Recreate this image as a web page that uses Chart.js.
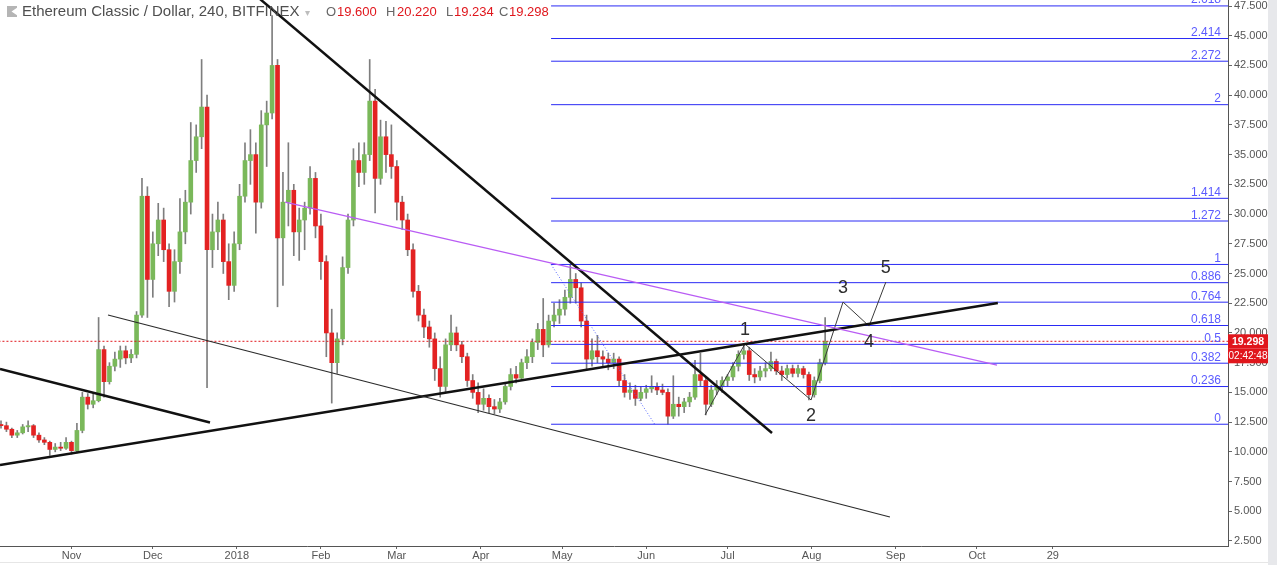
<!DOCTYPE html>
<html><head><meta charset="utf-8">
<script src="https://cdn.jsdelivr.net/npm/chart.js@4.4.1/dist/chart.umd.min.js"></script>
<style>
html,body{margin:0;padding:0;background:#fff;width:1277px;height:565px;overflow:hidden;}
#wrap{position:relative;width:1277px;height:565px;}
canvas{position:absolute;left:0;top:0;}
#strip{position:absolute;left:1268px;top:0;width:9px;height:565px;background:#e7e8eb;}
#bline{position:absolute;left:0;top:562px;width:1268px;height:1px;background:#e6e6e6;}
.t{position:absolute;top:4px;font-family:'Liberation Sans',Arial,sans-serif;white-space:nowrap;line-height:16px;}
#icon{position:absolute;left:7px;top:6px;width:10px;height:11px;background:#b5b5b5;clip-path:polygon(0 0,100% 0,100% 15%,45% 50%,100% 85%,100% 100%,0 100%);}
</style></head>
<body><div id="wrap">
<canvas id="c" width="1268" height="565"></canvas>
<div id="strip"></div><div id="bline"></div>
<div id="icon"></div>
<div class="t" style="left:22px;font-size:15px;color:#4f4f4f;top:3px;">Ethereum Classic / Dollar, 240, BITFINEX</div>
<div class="t" style="left:305px;font-size:10px;color:#bdbdbd;top:5px;">▾</div>
<div class="t" style="left:326px;font-size:13px;color:#666;">O</div>
<div class="t" style="left:337px;font-size:13px;color:#e0161c;">19.600</div>
<div class="t" style="left:386px;font-size:13px;color:#666;">H</div>
<div class="t" style="left:397px;font-size:13px;color:#e0161c;">20.220</div>
<div class="t" style="left:446px;font-size:13px;color:#666;">L</div>
<div class="t" style="left:454px;font-size:13px;color:#e0161c;">19.234</div>
<div class="t" style="left:499px;font-size:13px;color:#666;">C</div>
<div class="t" style="left:509px;font-size:13px;color:#e0161c;">19.298</div>
</div>
<script>
// ---------- DATA ----------
const candleDates = [
'2017-10-06','2017-10-08','2017-10-10','2017-10-12','2017-10-14','2017-10-16','2017-10-18','2017-10-20','2017-10-22','2017-10-24','2017-10-26','2017-10-28','2017-10-30',
'2017-11-01','2017-11-03','2017-11-05','2017-11-07','2017-11-09','2017-11-11','2017-11-13','2017-11-15','2017-11-17','2017-11-19','2017-11-21','2017-11-23','2017-11-25','2017-11-27','2017-11-29',
'2017-12-01','2017-12-03','2017-12-05','2017-12-07','2017-12-09','2017-12-11','2017-12-13','2017-12-15','2017-12-17','2017-12-19','2017-12-21','2017-12-23','2017-12-25','2017-12-27','2017-12-29','2017-12-31',
'2018-01-02','2018-01-04','2018-01-06','2018-01-08','2018-01-10','2018-01-12','2018-01-14','2018-01-16','2018-01-18','2018-01-20','2018-01-22','2018-01-24','2018-01-26','2018-01-28','2018-01-30',
'2018-02-01','2018-02-03','2018-02-05','2018-02-07','2018-02-09','2018-02-11','2018-02-13','2018-02-15','2018-02-17','2018-02-19','2018-02-21','2018-02-23','2018-02-25','2018-02-27',
'2018-03-01','2018-03-03','2018-03-05','2018-03-07','2018-03-09','2018-03-11','2018-03-13','2018-03-15','2018-03-17','2018-03-19','2018-03-21','2018-03-23','2018-03-25','2018-03-27','2018-03-29','2018-03-31',
'2018-04-02','2018-04-04','2018-04-06','2018-04-08','2018-04-10','2018-04-12','2018-04-14','2018-04-16','2018-04-18','2018-04-20','2018-04-22','2018-04-24','2018-04-26','2018-04-28','2018-04-30',
'2018-05-02','2018-05-04','2018-05-06','2018-05-08','2018-05-10','2018-05-12','2018-05-14','2018-05-16','2018-05-18','2018-05-20','2018-05-22','2018-05-24','2018-05-26','2018-05-28','2018-05-30',
'2018-06-01','2018-06-03','2018-06-05','2018-06-07','2018-06-09','2018-06-11','2018-06-13','2018-06-15','2018-06-17','2018-06-19','2018-06-21','2018-06-23','2018-06-25','2018-06-27','2018-06-29',
'2018-07-01','2018-07-03','2018-07-05','2018-07-07','2018-07-09','2018-07-11','2018-07-13','2018-07-15','2018-07-17','2018-07-19','2018-07-21','2018-07-23','2018-07-25','2018-07-27','2018-07-29','2018-07-31',
'2018-08-02','2018-08-04','2018-08-06'];
const openP = [12.3,12.2,11.9,11.4,11.6,12.1,12.2,11.4,11.0,10.8,10.2,10.4,10.3,
10.8,10.1,11.8,14.6,14.0,14.3,18.6,15.9,17.2,17.8,18.5,17.9,18.2,21.5,31.5,
24.5,27.5,29.5,27.0,23.5,26.0,28.5,31.0,34.5,36.5,39.0,27.0,28.5,29.5,26.0,24.0,
27.5,31.5,34.5,35.0,31.0,37.5,38.5,42.5,28.0,31.0,32.0,28.5,29.5,30.5,33.0,
29.0,26.0,20.0,17.5,19.5,25.5,29.5,34.5,33.5,35.0,39.5,33.0,36.5,35.0,
34.0,31.0,29.5,27.0,23.5,21.5,20.5,19.5,17.0,15.5,19.0,20.0,19.0,18.0,16.0,15.0,
14.0,14.5,13.8,13.6,14.2,15.5,16.5,16.2,17.5,18.0,19.2,20.3,19.0,21.0,21.5,
22.0,23.0,24.5,23.8,21.0,17.8,18.5,18.0,17.8,17.5,17.8,16.0,15.0,15.2,14.5,
15.0,15.3,15.5,15.2,15.0,13.0,14.0,13.8,14.2,14.6,16.5,16.0,14.0,15.2,15.5,
16.0,16.3,17.2,18.2,18.5,16.5,16.3,16.8,17.0,17.6,16.8,16.5,17.0,16.6,17.0,16.5,
14.8,16.0,17.5];
const highP = [12.6,12.5,12.0,11.8,12.3,12.6,12.3,11.6,11.2,10.9,10.7,10.8,11.2,
10.9,12.4,15.0,14.9,14.9,21.3,18.9,17.5,18.4,18.9,18.9,18.6,21.8,33.0,32.3,
28.5,30.9,30.5,27.5,27.0,31.3,32.0,37.7,37.5,43.0,40.0,30.0,31.0,30.0,27.5,28.5,
32.5,36.0,37.1,36.0,38.7,39.5,46.7,43.0,33.5,36.0,32.5,30.5,31.0,34.0,33.5,
30.0,26.5,22.0,20.0,26.4,30.0,35.5,36.0,36.0,43.0,40.5,37.9,37.8,37.5,
34.5,31.5,30.0,27.5,24.0,22.0,21.0,20.0,18.0,19.5,21.5,20.5,19.3,18.3,16.5,15.8,
15.3,14.8,14.4,14.5,15.8,17.0,17.2,17.8,18.6,19.5,20.8,22.9,21.5,22.5,22.8,
23.6,25.76,25.0,24.2,21.5,19.5,19.8,18.5,18.3,18.3,18.0,16.5,15.8,15.6,15.5,
15.6,16.4,15.8,15.7,15.3,16.4,14.6,14.5,15.0,17.7,18.3,16.3,15.6,16.0,16.3,
16.5,17.5,18.5,19.07,18.8,17.0,17.2,17.5,18.4,17.8,17.2,17.3,17.3,17.3,17.2,16.7,
16.3,17.8,21.3];
const lowP = [12.0,11.7,11.2,11.2,11.5,11.7,11.2,10.8,10.6,9.7,10.0,10.1,10.2,
9.8,9.9,11.6,13.6,13.7,14.2,14.6,15.7,16.8,17.1,17.4,17.5,17.9,21.3,21.3,
23.0,26.5,26.0,22.2,22.6,25.0,27.5,30.0,33.5,35.5,15.4,25.5,27.0,25.0,22.8,23.5,
27.0,31.0,32.5,28.4,30.5,34.0,38.0,22.2,24.0,29.0,26.5,26.1,27.0,30.0,28.0,
24.5,18.0,14.1,16.6,19.0,25.0,29.0,32.3,32.5,34.5,30.1,32.5,33.5,33.0,
29.5,28.7,26.5,23.0,21.0,19.6,18.8,16.0,14.6,15.0,18.5,18.5,17.5,15.5,14.5,13.3,
13.5,13.3,13.2,13.3,14.0,15.2,15.8,16.0,17.0,17.5,18.6,18.0,18.8,20.5,20.8,
21.5,22.5,22.5,20.5,16.9,17.2,17.5,17.2,16.9,17.0,15.5,14.6,14.4,13.9,14.3,
14.5,15.0,14.8,14.8,12.32,12.8,13.0,13.3,13.8,14.4,15.5,13.1,13.8,14.8,15.0,
15.5,16.0,16.8,17.8,16.0,15.8,16.0,16.3,16.8,16.5,16.0,16.2,16.3,16.3,16.2,14.36,
14.6,15.8,17.3];
const closeP = [12.2,11.9,11.4,11.6,12.1,12.2,11.4,11.0,10.8,10.2,10.4,10.3,10.8,
10.1,11.8,14.6,14.0,14.3,18.6,15.9,17.2,17.8,18.5,17.9,18.2,21.5,31.5,24.5,
27.5,29.5,27.0,23.5,26.0,28.5,31.0,34.5,36.5,39.0,27.0,28.5,29.5,26.0,24.0,27.5,
31.5,34.5,35.0,31.0,37.5,38.5,42.5,28.0,31.0,32.0,28.5,29.5,30.5,33.0,29.0,
26.0,20.0,17.5,19.5,25.5,29.5,34.5,33.5,35.0,39.5,33.0,36.5,35.0,34.0,
31.0,29.5,27.0,23.5,21.5,20.5,19.5,17.0,15.5,19.0,20.0,19.0,18.0,16.0,15.0,14.0,
14.5,13.8,13.6,14.2,15.5,16.5,16.2,17.5,18.0,19.2,20.3,19.0,21.0,21.5,22.0,
23.0,24.5,23.8,21.0,17.8,18.5,18.0,17.8,17.5,17.8,16.0,15.0,15.2,14.5,15.0,
15.3,15.5,15.2,15.0,13.0,14.0,13.8,14.2,14.6,16.5,16.0,14.0,15.2,15.5,16.0,
16.3,17.2,18.2,18.5,16.5,16.3,16.8,17.0,17.6,16.8,16.5,17.0,16.6,17.0,16.5,14.8,
16.0,17.5,19.298];

// axis ticks
const xTickDates = ['2017-11-01','2017-12-01','2018-01-01','2018-02-01','2018-03-01','2018-04-01','2018-05-01','2018-06-01','2018-07-01','2018-08-01','2018-09-01','2018-10-01','2018-10-29'];
const xTickLabels = ['Nov','Dec','2018','Feb','Mar','Apr','May','Jun','Jul','Aug','Sep','Oct','29'];
const yTickValues = [2.5,5,7.5,10,12.5,15,17.5,20,22.5,25,27.5,30,32.5,35,37.5,40,42.5,45,47.5];

// drawings (day offsets from 2017-11-01, prices)
const descDays = [65.9, 258.4],   descPrices = [48.79, 11.58];
const ascDays = [-26.37, 341.7],  ascPrices = [8.89, 22.52];
const chanDays = [13.47, 301.9],  chanPrices = [21.51, 4.52];
const leftDays = [-26.37, 51.1],  leftPrices = [16.97, 12.47];
const purpleDays = [78.8, 341.4], purplePrices = [31.01, 17.30];
const fibTrendDays = [176.9, 215.3], fibTrendPrices = [25.76, 12.26];
const waveDays = [233.7, 248.4, 272.8, 284.6, 294.2, 300.4];
const wavePrices = [13.10, 19.07, 14.36, 22.60, 20.58, 24.28];
const waveLabels = ['', '1', '2', '3', '4', '5'];
const fibRatios = [0, 0.236, 0.382, 0.5, 0.618, 0.764, 0.886, 1, 1.272, 1.414, 2, 2.272, 2.414, 2.618];
const fibLow = 12.32, fibHigh = 25.76, fibStartDay = 176.9;
const lastPrice = 19.298;
const countdown = '02:42:48';

// ---------- CHART ----------
const DAY = 86400000, T0 = Date.parse('2017-11-01');
const dayOf = d => (Date.parse(d) - T0) / DAY;
const X_MIN = -26.37, X_MAX = 426.6, Y_MIN = 2.079, Y_MAX = 48.005;
const xTickDays = xTickDates.map(dayOf);
const cx = candleDates.map(dayOf);
const pts = (ds, ps) => ds.map((d, i) => ({x: d, y: ps[i]}));

Chart.defaults.font.family = "'Liberation Sans', Arial, sans-serif";

function lineDs(data, color, width, dash, order) {
  return {type: 'line', data, borderColor: color, borderWidth: width, borderDash: dash || [],
    pointRadius: 0, pointHoverRadius: 0, fill: false, tension: 0, order: order || 0};
}

const datasets = [];
fibRatios.forEach(r => {
  const p = fibLow + r * (fibHigh - fibLow);
  datasets.push(lineDs([{x: fibStartDay, y: p}, {x: X_MAX + 5, y: p}], '#2a2af5', 1, null, 3));
});
datasets.push(lineDs(pts(fibTrendDays, fibTrendPrices), '#5566ff', 1, [1, 2], 3));
datasets.push(lineDs([{x: X_MIN - 5, y: lastPrice}, {x: X_MAX + 5, y: lastPrice}], '#e0161c', 1, [2, 2], 2));
datasets.push(lineDs(pts(purpleDays, purplePrices), '#b95cf4', 1.2, null, 1));
datasets.push(lineDs(pts(chanDays, chanPrices), '#2b2b2b', 1.2, null, 1));
datasets.push(lineDs(pts(leftDays, leftPrices), '#111', 2.5, null, 1));
datasets.push(lineDs(pts(ascDays, ascPrices), '#111', 2.5, null, 1));
datasets.push(lineDs(pts(descDays, descPrices), '#111', 2.5, null, 1));
datasets.push(lineDs(pts(waveDays, wavePrices), '#3a3a3a', 1, null, 1));
// candles
datasets.push({type: 'bar', data: cx.map((x, i) => ({x, y: [Math.max(openP[i], closeP[i]), Math.min(openP[i], closeP[i])]})),
  backgroundColor: cx.map((x, i) => closeP[i] >= openP[i] ? '#7ab85a' : '#e32222'),
  barThickness: 4, grouped: false, borderSkipped: false, order: 8});
datasets.push({type: 'bar', data: cx.map((x, i) => ({x, y: [lowP[i], highP[i]]})),
  backgroundColor: '#7e7e7e', barThickness: 1, grouped: false, borderSkipped: false, order: 9});

const overlay = {
  id: 'overlay',
  afterDraw(chart) {
    const c = chart.ctx, xs = chart.scales.x, ys = chart.scales.y, a = chart.chartArea;
    c.save();
    c.beginPath(); c.rect(a.left, a.top, a.right - a.left, a.bottom - a.top); c.clip();
    c.font = "12px 'Liberation Sans', Arial, sans-serif";
    c.fillStyle = '#5b5bff'; c.textAlign = 'right'; c.textBaseline = 'alphabetic';
    fibRatios.forEach(r => {
      const p = fibLow + r * (fibHigh - fibLow);
      c.fillText(String(r), 1221, ys.getPixelForValue(p) - 2.5);
    });
    c.font = "18px 'Liberation Sans', Arial, sans-serif";
    c.fillStyle = '#2e2e2e'; c.textAlign = 'center'; c.textBaseline = 'middle';
    waveDays.forEach((d, i) => {
      if (!waveLabels[i]) return;
      const up = (i % 2 === 1);
      const px = xs.getPixelForValue(d), py = ys.getPixelForValue(wavePrices[i]);
      c.fillText(waveLabels[i], px, py + (up ? -14 : 16));
    });
    c.restore();
    const py = ys.getPixelForValue(lastPrice);
    c.save();
    c.fillStyle = '#e0161c';
    c.fillRect(a.right, py - 7, 40, 14);
    c.fillRect(a.right, py + 7, 40, 15);
    c.fillStyle = '#fff'; c.textAlign = 'center'; c.textBaseline = 'middle';
    c.font = "bold 10.5px 'Liberation Sans', Arial, sans-serif";
    c.fillText(lastPrice.toFixed(3), a.right + 20, py + 0.5);
    c.font = "10px 'Liberation Sans', Arial, sans-serif";
    c.fillText(countdown, a.right + 20, py + 14.5);
    c.restore();
  }
};

new Chart(document.getElementById('c').getContext('2d'), {
  type: 'bar',
  data: {datasets},
  options: {
    responsive: false, maintainAspectRatio: false, animation: false,
    layout: {padding: 0},
    plugins: {legend: {display: false}, tooltip: {enabled: false}},
    scales: {
      x: {type: 'linear', min: X_MIN, max: X_MAX, bounds: 'data', offset: false, position: 'bottom',
        grid: {drawOnChartArea: false, drawTicks: true, tickLength: 3, color: '#666', offset: false},
        border: {display: true, color: '#555'},
        ticks: {autoSkip: false, maxRotation: 0, minRotation: 0, padding: 0, color: '#555',
          font: {size: 11}, callback: (v, i) => xTickLabels[i]},
        afterBuildTicks: s => { s.ticks = xTickDays.map(v => ({value: v})); },
        afterFit: s => { s.height = 19; s.paddingLeft = 0; s.paddingRight = 0; }
      },
      y: {type: 'linear', position: 'right', min: Y_MIN, max: Y_MAX, bounds: 'data', beginAtZero: false,
        grid: {drawOnChartArea: false, drawTicks: true, tickLength: 4, color: '#666'},
        border: {display: true, color: '#555'},
        ticks: {padding: 2, color: '#555', font: {size: 11}, callback: v => Number(v).toFixed(3)},
        afterBuildTicks: s => { s.ticks = yTickValues.map(v => ({value: v})); },
        afterFit: s => { s.width = 40; s.paddingTop = 0; s.paddingBottom = 0; }
      }
    }
  },
  plugins: [overlay]
});
</script>
</body></html>
